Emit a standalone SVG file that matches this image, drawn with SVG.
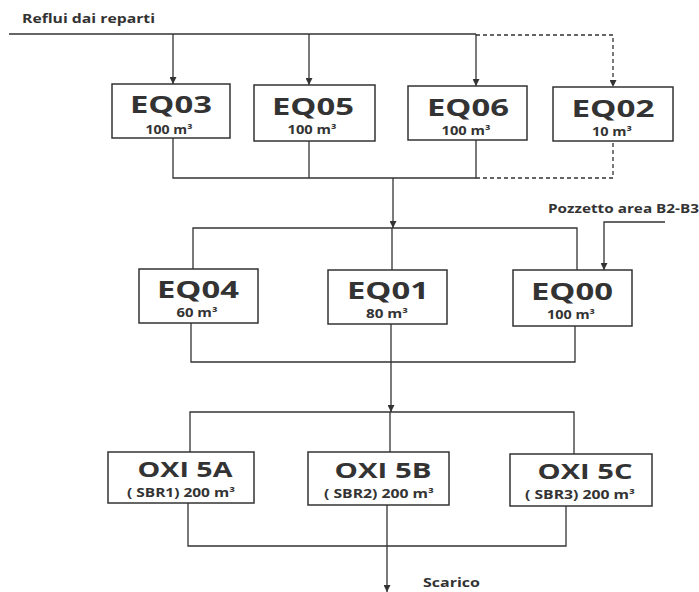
<svg xmlns="http://www.w3.org/2000/svg" width="699" height="592" viewBox="0 0 699 592">
<style>
.box{fill:#fff;stroke:#333;stroke-width:1.5}
.ln{fill:none;stroke:#333;stroke-width:1.3}
.dash{fill:none;stroke:#333;stroke-width:1.3;stroke-dasharray:4 3}
text{font-family:"Open Sans","Noto Sans",sans-serif;font-weight:bold;fill:#333}
.big{font-size:23px;text-anchor:middle}
.oxi{font-size:22px;text-anchor:middle}
.sm{font-size:12px;text-anchor:middle}
.lbl{font-size:12.5px}
</style>
<defs>
<marker id="ah" viewBox="0 0 10 10" refX="10" refY="5" markerWidth="7" markerHeight="7" markerUnits="userSpaceOnUse" orient="auto"><path d="M0,0L10,5L0,10z" fill="#333"/></marker>
</defs>
<g id="connectors">
<path class="ln" d="M9,34H476"/>
<path class="dash" d="M476,35H613V85"/>
<path class="ln" d="M173,34V84" marker-end="url(#ah)"/>
<path class="ln" d="M309,34V85" marker-end="url(#ah)"/>
<path class="ln" d="M476,34V86" marker-end="url(#ah)"/>
<path class="dash" d="M613,80V87" marker-end="url(#ah)"/>
<path class="ln" d="M173,138V178H476V140"/>
<path class="ln" d="M309,141V178"/>
<path class="dash" d="M476,178H613V141"/>
<path class="ln" d="M393,178V228" marker-end="url(#ah)"/>
<path class="ln" d="M193,269V228H577V270"/>
<path class="ln" d="M392,228V270"/>
<path class="ln" d="M665,222H604V270" marker-end="url(#ah)"/>
<path class="ln" d="M191,323V362H575V326"/>
<path class="ln" d="M391,324V412" marker-end="url(#ah)"/>
<path class="ln" d="M190,452V412H574V454"/>
<path class="ln" d="M390,412V452"/>
<path class="ln" d="M188,503V546H566V506"/>
<path class="ln" d="M387,505V592" marker-end="url(#ah)"/>
</g>
<g id="title"><text class="lbl" x="22" y="23" textLength="133" lengthAdjust="spacingAndGlyphs">Reflui dai reparti</text></g>
<g id="pozzetto"><text class="lbl" x="548" y="213" font-size="12" textLength="151" lengthAdjust="spacingAndGlyphs">Pozzetto area B2-B3</text></g>
<g id="scarico"><text class="lbl" x="423" y="587" textLength="57" lengthAdjust="spacingAndGlyphs">Scarico</text></g>
<g id="EQ03"><rect class="box" x="112" y="84" width="118" height="54"/><text class="big" x="171" y="113" textLength="82" lengthAdjust="spacingAndGlyphs">EQ03</text><text class="sm" x="169" y="134" textLength="47" lengthAdjust="spacingAndGlyphs">100 m³</text></g>
<g id="EQ05"><rect class="box" x="254" y="85" width="121" height="56"/><text class="big" x="313" y="115" textLength="82" lengthAdjust="spacingAndGlyphs">EQ05</text><text class="sm" x="312" y="134" textLength="49" lengthAdjust="spacingAndGlyphs">100 m³</text></g>
<g id="EQ06"><rect class="box" x="408" y="86" width="119" height="54"/><text class="big" x="468" y="116" textLength="82" lengthAdjust="spacingAndGlyphs">EQ06</text><text class="sm" x="466" y="135" textLength="49" lengthAdjust="spacingAndGlyphs">100 m³</text></g>
<g id="EQ02"><rect class="box" x="553" y="87" width="120" height="54"/><text class="big" x="613" y="117" textLength="83" lengthAdjust="spacingAndGlyphs">EQ02</text><text class="sm" x="612" y="136" textLength="40" lengthAdjust="spacingAndGlyphs">10 m³</text></g>
<g id="EQ04"><rect class="box" x="139" y="269" width="119" height="54"/><text class="big" x="198" y="298" textLength="82" lengthAdjust="spacingAndGlyphs">EQ04</text><text class="sm" x="197" y="317" textLength="41" lengthAdjust="spacingAndGlyphs">60 m³</text></g>
<g id="EQ01"><rect class="box" x="328" y="270" width="119" height="54"/><text class="big" x="388" y="299" textLength="82" lengthAdjust="spacingAndGlyphs">EQ01</text><text class="sm" x="387" y="318" textLength="42" lengthAdjust="spacingAndGlyphs">80 m³</text></g>
<g id="EQ00"><rect class="box" x="513" y="270" width="119" height="56"/><text class="big" x="572" y="300" textLength="82" lengthAdjust="spacingAndGlyphs">EQ00</text><text class="sm" x="571" y="319" textLength="48" lengthAdjust="spacingAndGlyphs">100 m³</text></g>
<g id="OXI5A"><rect class="box" x="108" y="452" width="146" height="51"/><text class="oxi" x="185" y="477" textLength="95" lengthAdjust="spacingAndGlyphs">OXI 5A</text><text class="sm" x="181" y="497" textLength="108" lengthAdjust="spacingAndGlyphs">( SBR1) 200 m³</text></g>
<g id="OXI5B"><rect class="box" x="308" y="452" width="141" height="53"/><text class="oxi" x="383" y="478" textLength="97" lengthAdjust="spacingAndGlyphs">OXI 5B</text><text class="sm" x="379" y="498" textLength="110" lengthAdjust="spacingAndGlyphs">( SBR2) 200 m³</text></g>
<g id="OXI5C"><rect class="box" x="510" y="454" width="142" height="52"/><text class="oxi" x="585" y="479" textLength="95" lengthAdjust="spacingAndGlyphs">OXI 5C</text><text class="sm" x="580" y="499" textLength="110" lengthAdjust="spacingAndGlyphs">( SBR3) 200 m³</text></g>
</svg>
